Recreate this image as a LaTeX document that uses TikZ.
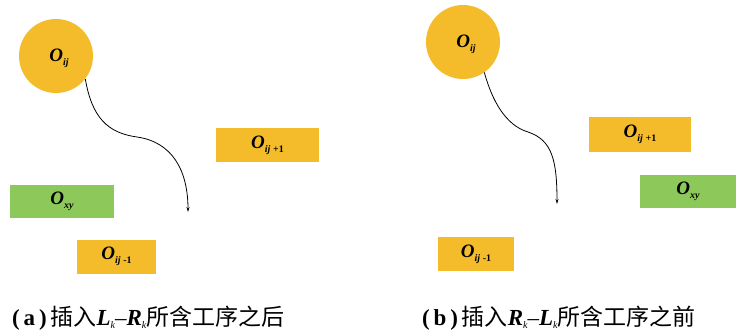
\documentclass[tikz,border=0pt]{standalone}
\usepackage{fontspec}
\setmainfont{Liberation Serif}
\newfontfamily\cjk{Noto Sans CJK SC}
\usetikzlibrary{arrows.meta}
\definecolor{orng}{HTML}{F4BC2B}
\definecolor{grn}{HTML}{8DC85A}
\newcommand{\Osub}[1]{{\fontsize{19}{19}\selectfont\bfseries\itshape O}\raisebox{-4pt}{\fontsize{10}{10}\selectfont\bfseries #1}}
\newcommand{\capsub}[2]{{\bfseries\itshape #1}\raisebox{-3pt}{\fontsize{10}{10}\selectfont\itshape #2}}
\tikzset{
  opbox/.style={fill=orng, draw=none, minimum width=#1, minimum height=34pt, inner sep=0pt},
  gbox/.style={fill=grn, draw=none, minimum width=#1, minimum height=33pt, inner sep=0pt},
  opcirc/.style={circle, fill=orng, draw=none, minimum size=74pt, inner sep=0pt},
  flow/.style={black, line width=0.8pt, -{Stealth[length=5pt,width=3pt]}},
  captxt/.style={font=\fontsize{23}{23}\selectfont, inner sep=0pt, anchor=west}
}
\begin{document}
\begin{tikzpicture}[x=1pt, y=-1pt]
\useasboundingbox (0,0) rectangle (736,334);
% panel (a)
\node[opcirc] (ca) at (56,56) {};
\node[inner sep=0pt] (ta) at (59,58) {\Osub{\itshape ij}};
\node[opbox=103pt] (pa) at (267.5,145) {\Osub{\itshape ij\upshape\;+1}};
\node[gbox=104pt] (xa) at (62,201.5) {\Osub{\itshape xy}};
\node[opbox=79pt] (ma) at (116.5,256.5) {\Osub{\itshape ij\upshape\;-1}};
\coordinate (ea) at (188,212);
\draw[flow] (ca.-38) .. controls (92,118) and (108,133) .. (137,137)
  .. controls (172,142) and (188,170) .. (ea);
\node[captxt] (capa) at (12,318) {{\bfseries(\,a\,)}\,{\cjk 插入}\capsub{L}{k}–\capsub{R}{k}{\cjk 所含工序之后}};
% panel (b)
\node[opcirc] (cb) at (463,42) {};
\node[inner sep=0pt] (tb) at (466,44) {\Osub{\itshape ij}};
\node[opbox=102pt] (pb) at (640,134.5) {\Osub{\itshape ij\upshape\;+1}};
\node[gbox=96pt] (xb) at (688,191) {\Osub{\itshape xy}};
\node[opbox=76pt] (mb) at (476,254) {\Osub{\itshape ij\upshape\;-1}};
\coordinate (eb) at (557,204);
\draw[flow] (cb.-55) .. controls (492,100) and (505,125) .. (528,132)
  .. controls (552,140) and (557,160) .. (eb);
\node[captxt] (capb) at (422,318) {{\bfseries(\,b\,)}\,{\cjk 插入}\capsub{R}{k}–\capsub{L}{k}{\cjk 所含工序之前}};
\end{tikzpicture}
\end{document}
